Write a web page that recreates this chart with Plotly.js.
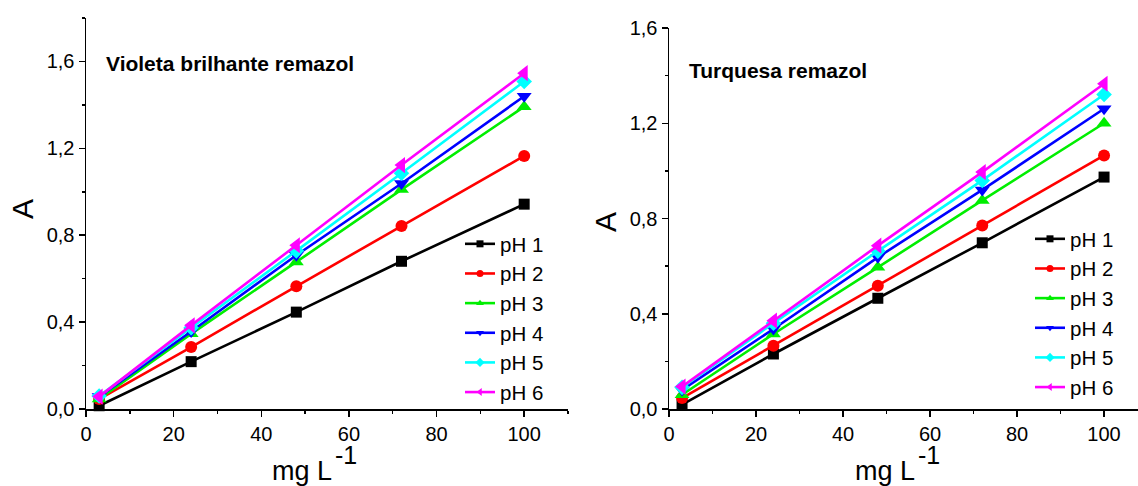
<!DOCTYPE html>
<html>
<head>
<meta charset="utf-8">
<script src="https://cdn.plot.ly/plotly-3.0.1.min.js"></script>
<style>html,body{margin:0;padding:0;background:#fff;}#chart{width:1138px;height:486px;}</style>
</head>
<body>
<div id="chart"></div>
<script>
// ---- data ----
const conc = [3, 24, 48, 72, 100];
const seriesNames = ["pH 1", "pH 2", "pH 3", "pH 4", "pH 5", "pH 6"];

// Violeta brilhante remazol
const violeta_pH1 = [0.015, 0.218, 0.446, 0.680, 0.943];
const violeta_pH2 = [0.046, 0.285, 0.565, 0.842, 1.165];
const violeta_pH3 = [0.046, 0.346, 0.677, 1.010, 1.392];
const violeta_pH4 = [0.057, 0.357, 0.708, 1.038, 1.440];
const violeta_pH5 = [0.060, 0.374, 0.728, 1.085, 1.508];
const violeta_pH6 = [0.057, 0.385, 0.754, 1.123, 1.546];

// Turquesa remazol
const turquesa_pH1 = [0.018, 0.231, 0.465, 0.698, 0.974];
const turquesa_pH2 = [0.046, 0.266, 0.518, 0.771, 1.065];
const turquesa_pH3 = [0.060, 0.315, 0.595, 0.876, 1.200];
const turquesa_pH4 = [0.080, 0.336, 0.637, 0.920, 1.261];
const turquesa_pH5 = [0.091, 0.360, 0.663, 0.960, 1.321];
const turquesa_pH6 = [0.094, 0.371, 0.686, 0.995, 1.366];

const xTickVals = [0, 20, 40, 60, 80, 100];
const xTickText = ["0", "20", "40", "60", "80", "100"];
const yTickVals = [0, 0.4, 0.8, 1.2, 1.6];
const yTickText = ["0,0", "0,4", "0,8", "1,2", "1,6"];

// ---- styles ----
const colors = ["#000000", "#ff0000", "#00ee00", "#0000ff", "#00ffff", "#ff00ff"];
const symbols = ["square", "circle", "triangle-up", "triangle-down", "diamond", "triangle-left"];
const plotSizes = [11, 12, 13, 13, 12, 14];
const FONT = '"Liberation Sans", Arial, sans-serif';

const violeta = [violeta_pH1, violeta_pH2, violeta_pH3, violeta_pH4, violeta_pH5, violeta_pH6];
const turquesa = [turquesa_pH1, turquesa_pH2, turquesa_pH3, turquesa_pH4, turquesa_pH5, turquesa_pH6];

const traces = [];
function addPanel(vals, xa, ya, leg) {
  vals.forEach((ys, i) => {
    traces.push({
      type: "scatter", mode: "lines+markers",
      x: conc, y: ys, xaxis: xa, yaxis: ya,
      name: seriesNames[i], showlegend: false,
      line: {color: colors[i], width: 2.6},
      marker: {color: colors[i], symbol: symbols[i], size: plotSizes[i]},
      cliponaxis: false
    });
  });
  // legend entries with small markers
  vals.forEach((ys, i) => {
    traces.push({
      type: "scatter", mode: "lines+markers",
      x: [null], y: [null], xaxis: xa, yaxis: ya,
      name: seriesNames[i], showlegend: true, legend: leg,
      line: {color: colors[i], width: 2.6},
      marker: {color: colors[i], symbol: symbols[i], size: 7}
    });
  });
}
addPanel(violeta, "x", "y", "legend");
addPanel(turquesa, "x2", "y2", "legend2");

const W = 1138, H = 486;
const px = v => v / W;
const py = v => (H - v) / H;

function xAxis(dom, rng, anchor) {
  return {
    domain: dom, range: rng, anchor: anchor,
    showline: true, linecolor: "#000", linewidth: 1.5,
    ticks: "outside", ticklen: 6, tickwidth: 1.5, tickcolor: "#000",
    tickvals: xTickVals, ticktext: xTickText,
    minor: {dtick: 10, tick0: 0, ticks: "outside", ticklen: 3, tickwidth: 1.5, tickcolor: "#000", showgrid: false},
    showgrid: false, zeroline: false,
    tickfont: {family: FONT, size: 20, color: "#000"}
  };
}
function yAxis(dom, rng, anchor) {
  return {
    domain: dom, range: rng, anchor: anchor,
    showline: true, linecolor: "#000", linewidth: 1.5,
    ticks: "outside", ticklen: 6, tickwidth: 1.5, tickcolor: "#000",
    tickvals: yTickVals, ticktext: yTickText,
    minor: {dtick: 0.2, tick0: 0, ticks: "outside", ticklen: 3, tickwidth: 1.5, tickcolor: "#000", showgrid: false},
    showgrid: false, zeroline: false,
    tickfont: {family: FONT, size: 20, color: "#000"}
  };
}

const legendBase = {
  font: {family: FONT, size: 20.5, color: "#000"},
  bgcolor: "rgba(0,0,0,0)", borderwidth: 0,
  xanchor: "left", yanchor: "top", tracegroupgap: 0, itemwidth: 30
};

const layout = {
  width: W, height: H,
  margin: {l: 0, r: 0, t: 0, b: 0},
  paper_bgcolor: "#fff", plot_bgcolor: "#fff",
  font: {family: FONT, size: 20, color: "#000"},
  separators: ",.",
  xaxis: xAxis([px(86), px(568)], [0, 110], "y"),
  yaxis: yAxis([py(409), py(18)], [0, 1.8], "x"),
  xaxis2: xAxis([px(669), 1], [0, 107.8], "y2"),
  yaxis2: yAxis([py(409), py(28)], [0, 1.6], "x2"),
  legend: Object.assign({x: px(460), y: py(224)}, legendBase),
  legend2: Object.assign({x: px(1030), y: py(219)}, legendBase),
  annotations: [
    {xref: "paper", yref: "paper", x: px(104), y: py(63), xanchor: "left", yanchor: "middle",
     text: "<b>Violeta brilhante remazol</b>", showarrow: false, font: {family: FONT, size: 21, color: "#000"}},
    {xref: "paper", yref: "paper", x: px(687), y: py(70), xanchor: "left", yanchor: "middle",
     text: "<b>Turquesa remazol</b>", showarrow: false, font: {family: FONT, size: 21, color: "#000"}},
    {xref: "paper", yref: "paper", x: px(22), y: py(209), xanchor: "center", yanchor: "middle",
     text: "A", textangle: -90, showarrow: false, font: {family: FONT, size: 30, color: "#000"}},
    {xref: "paper", yref: "paper", x: px(605), y: py(222), xanchor: "center", yanchor: "middle",
     text: "A", textangle: -90, showarrow: false, font: {family: FONT, size: 30, color: "#000"}},
    {xref: "paper", yref: "paper", x: px(270), y: py(471), xanchor: "left", yanchor: "middle",
     text: "mg L", showarrow: false, font: {family: FONT, size: 27, color: "#000"}},
    {xref: "paper", yref: "paper", x: px(333), y: py(455), xanchor: "left", yanchor: "middle",
     text: "-1", showarrow: false, font: {family: FONT, size: 25, color: "#000"}},
    {xref: "paper", yref: "paper", x: px(853), y: py(471), xanchor: "left", yanchor: "middle",
     text: "mg L", showarrow: false, font: {family: FONT, size: 27, color: "#000"}},
    {xref: "paper", yref: "paper", x: px(916), y: py(455), xanchor: "left", yanchor: "middle",
     text: "-1", showarrow: false, font: {family: FONT, size: 25, color: "#000"}}
  ]
};

Plotly.newPlot("chart", traces, layout, {staticPlot: true, displayModeBar: false});
</script>
</body>
</html>
